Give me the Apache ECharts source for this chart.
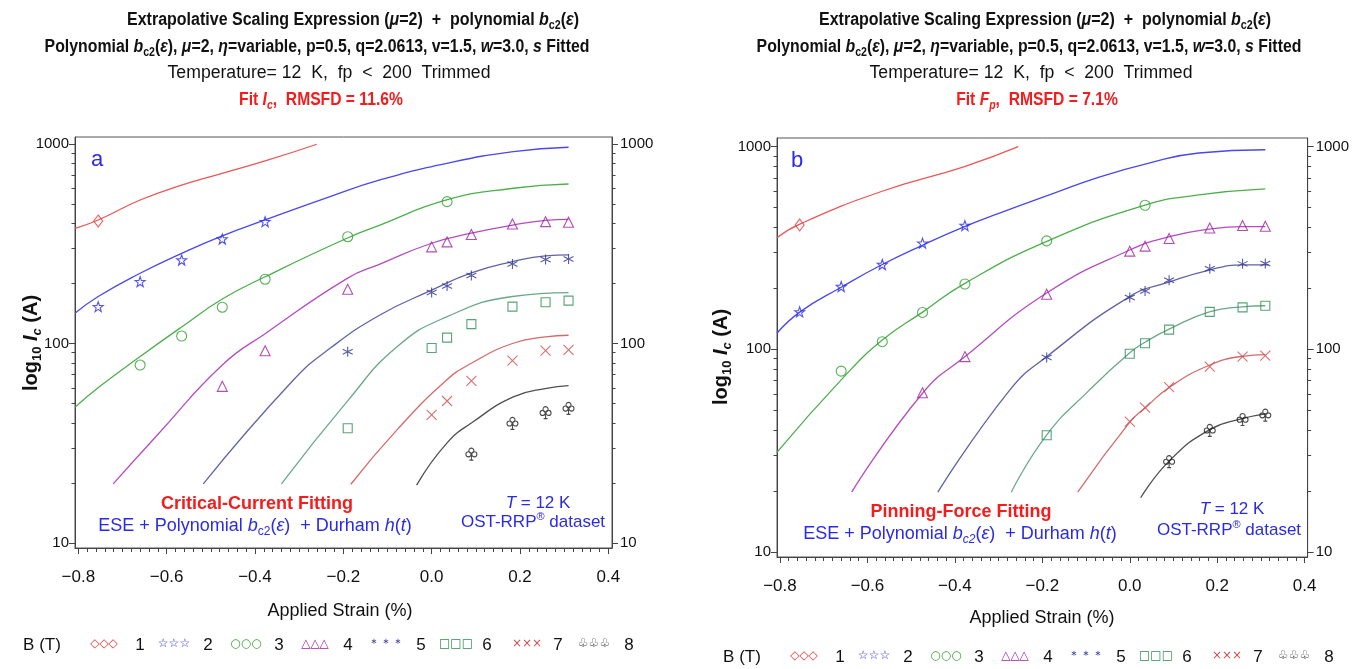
<!DOCTYPE html>
<html><head><meta charset="utf-8">
<script src="https://cdn.jsdelivr.net/npm/echarts@6/dist/echarts.min.js"></script>
<style>html,body{margin:0;padding:0;background:#fff}#c{width:1352px;height:669px}</style>
</head><body><div id="c"></div>
<script>
// ---------------- data ----------------
const fieldLabels = ['1','2','3','4','5','6','7','8'];           // B (T)
const strainTickLabels = [-0.8,-0.6,-0.4,-0.2,0.0,0.2,0.4];
const icTickLabels = [10,100,1000];
const icMinorTicks = [20,30,40,50,60,70,80,90,200,300,400,500,600,700,800,900];

// measured Ic points  [applied strain %, Ic A]
const meas_B1 = [[-0.755,411]];
const meas_B2 = [[-0.755,153],[-0.66,204],[-0.566,262],[-0.474,334],[-0.377,408]];
const meas_B3 = [[-0.66,78],[-0.566,109],[-0.474,152],[-0.377,210],[-0.19,343],[0.035,514]];
const meas_B4 = [[-0.474,61],[-0.377,92],[-0.19,187],[0.0,305],[0.035,323],[0.09,352],[0.183,397],[0.258,408],[0.31,405]];
const meas_B5 = [[-0.19,91],[0.0,180],[0.035,194],[0.09,219],[0.183,250],[0.258,264],[0.31,265]];
const meas_B6 = [[-0.19,37.6],[0.0,95],[0.035,107],[0.09,125],[0.183,153],[0.258,161],[0.31,164]];
const meas_B7 = [[0.0,43.9],[0.035,51.5],[0.09,65],[0.183,82],[0.258,92],[0.31,93]];
const meas_B8 = [[0.09,27.9],[0.183,39.8],[0.258,45],[0.31,47.3]];

// panel a: critical-current fit curves
const fitIc_B1 = [[-0.807,378],[-0.755,416],[-0.66,524],[-0.566,622],[-0.474,713],[-0.377,822],[-0.26,997]];
const fitIc_B2 = [[-0.807,142],[-0.755,172],[-0.66,225],[-0.566,283],[-0.474,346],[-0.377,416],[-0.23,545],[-0.117,660],[0.034,800],[0.185,915],[0.31,963]];
const fitIc_B3 = [[-0.807,48],[-0.751,61],[-0.66,86],[-0.566,121],[-0.474,167],[-0.377,216],[-0.192,337],[-0.117,392],[0.034,524],[0.185,600],[0.31,630]];
const fitIc_B4 = [[-0.721,19.8],[-0.62,35],[-0.474,78],[-0.377,112],[-0.191,212],[-0.117,250],[0.0,318],[0.09,357],[0.183,392],[0.258,414],[0.31,419]];
const fitIc_B5 = [[-0.517,19.8],[-0.313,65.6],[-0.23,94.6],[-0.117,139],[0.0,185],[0.09,226],[0.183,257],[0.258,275],[0.31,278]];
const fitIc_B6 = [[-0.34,19.8],[-0.192,51],[-0.079,96],[0.034,136],[0.183,172],[0.31,180]];
const fitIc_B7 = [[-0.183,19.7],[-0.079,36.8],[0.034,65.6],[0.09,79.6],[0.183,100],[0.258,108],[0.31,110]];
const fitIc_B8 = [[-0.034,19.5],[0.034,31.6],[0.094,40.5],[0.185,54],[0.26,59.6],[0.31,61.5]];

// panel b: pinning-force fit curves
const fitFp_B1 = [[-0.807,355],[-0.756,414],[-0.568,601],[-0.378,798],[-0.255,1000]];
const fitFp_B2 = [[-0.807,120],[-0.754,153],[-0.659,203],[-0.566,262],[-0.473,327],[-0.378,403],[-0.298,470],[-0.184,578],[-0.07,708],[0.044,830],[0.158,931],[0.31,966]];
const fitFp_B3 = [[-0.807,31],[-0.659,71],[-0.566,111],[-0.473,153],[-0.378,211],[-0.191,340],[0.037,516],[0.158,578],[0.31,619]];
const fitFp_B4 = [[-0.636,19.7],[-0.473,61],[-0.378,91.6],[-0.191,189],[0.0,309],[0.091,360],[0.182,392],[0.257,403],[0.31,403]];
const fitFp_B5 = [[-0.439,19.7],[-0.275,62.7],[-0.191,91.6],[0.0,182],[0.091,215],[0.182,246],[0.257,261],[0.318,261]];
const fitFp_B6 = [[-0.271,19.7],[-0.191,37.5],[-0.093,62.7],[0.0,96],[0.037,109],[0.091,126],[0.182,153],[0.257,162],[0.31,164]];
const fitFp_B7 = [[-0.119,19.7],[0.0,43.7],[0.037,51.8],[0.091,65],[0.182,83.4],[0.257,92.3],[0.31,94]];
const fitFp_B8 = [[0.025,18.5],[0.091,28.2],[0.182,40],[0.257,45.4],[0.31,48]];

const measAll = [meas_B1,meas_B2,meas_B3,meas_B4,meas_B5,meas_B6,meas_B7,meas_B8];
const fitIcAll = [fitIc_B1,fitIc_B2,fitIc_B3,fitIc_B4,fitIc_B5,fitIc_B6,fitIc_B7,fitIc_B8];
const fitFpAll = [fitFp_B1,fitFp_B2,fitFp_B3,fitFp_B4,fitFp_B5,fitFp_B6,fitFp_B7,fitFp_B8];

// ---------------- styles ----------------
const FF = '"Liberation Sans", Arial, sans-serif';
const lineColors = ['#ee5656','#4848ee','#4caf4c','#b44cc0','#6262a8','#6aa88c','#d46a6a','#505050'];
const markColors = ['#f03a3a','#2a2ae6','#2e9e2e','#a0209f','#2f2f8f','#2e8b57','#d04c4c','#1a1a1a'];
const symbols = [
  'diamond',
  'path://M5 0L6.18 3.38L9.76 3.45L6.9 5.62L7.94 9.05L5 7L2.06 9.05L3.1 5.62L0.24 3.45L3.82 3.38Z',
  'circle',
  'triangle',
  'path://M5 0L5 10M0.67 2.5L9.33 7.5M0.67 7.5L9.33 2.5',
  'rect',
  'path://M0 0L10 10M10 0L0 10',
  'path://M3.4 3.2A2.6 2.6 0 1 1 8.6 3.2A2.6 2.6 0 1 1 3.4 3.2ZM0.4 7A2.6 2.6 0 1 1 5.6 7A2.6 2.6 0 1 1 0.4 7ZM6.4 7A2.6 2.6 0 1 1 11.6 7A2.6 2.6 0 1 1 6.4 7ZM6 6.5L6 13M4 13L8 13'
];
const symSizes = [[9,12],10,10,[10,10],10,9,10,[11,12]];
const legendGlyphs = ['◇◇◇','☆☆☆','○○○','△△△','＊＊＊','□□□','×××','♧♧♧'];

// panel geometry
const panels = [
  {left:75, top:137, width:537, height:411, xmin:-0.8075, xmax:0.4084, ymin:9.44, ymax:1084, fits:fitIcAll},
  {left:777, top:138, width:532, height:419, xmin:-0.8068, xmax:0.4068, ymin:9.43, ymax:1104, fits:fitFpAll}
];

const strainMinor = [];
for (let k = -40; k <= 20; k++) { if (k % 10 !== 0) strainMinor.push(+(k*0.02).toFixed(2)); }

const fmtStrain = v => (v < 0 ? '\u2212' : '') + Math.abs(v).toFixed(1);

const grids = [], xAxes = [], yAxes = [], series = [];
panels.forEach((p, gi) => {
  grids.push({left:p.left, top:p.top, width:p.width, height:p.height, show:true, borderColor:'#555', borderWidth:1, backgroundColor:'transparent'});
  const xBase = xAxes.length;
  xAxes.push({type:'value', gridIndex:gi, min:p.xmin, max:p.xmax, position:'bottom',
    axisLine:{show:true, onZero:false, lineStyle:{color:'#444', width:1}},
    axisTick:{show:true, length:6, customValues:strainTickLabels, lineStyle:{color:'#444'}},
    axisLabel:{show:true, customValues:strainTickLabels, formatter:fmtStrain, margin:21, fontSize:17, fontFamily:FF, color:'#111'},
    splitLine:{show:false}});
  xAxes.push({type:'value', gridIndex:gi, min:p.xmin, max:p.xmax, position:'bottom',
    axisLine:{show:false, onZero:false}, axisTick:{show:true, length:4, customValues:strainMinor, lineStyle:{color:'#444'}},
    axisLabel:{show:false}, splitLine:{show:false}});
  const yBase = yAxes.length;
  ['left','right'].forEach(pos => {
    yAxes.push({type:'log', logBase:10, gridIndex:gi, min:p.ymin, max:p.ymax, position:pos,
      axisLine:{show:true, onZero:false, lineStyle:{color:'#444', width:1}},
      axisTick:{show:true, length:6, customValues:icTickLabels, lineStyle:{color:'#444'}},
      axisLabel:{show:true, customValues:icTickLabels, formatter:v => String(Math.round(v)), margin:pos==='left'?6:8, fontSize:15, fontFamily:FF, color:'#111'},
      splitLine:{show:false}, minorTick:{show:false}});
    yAxes.push({type:'log', logBase:10, gridIndex:gi, min:p.ymin, max:p.ymax, position:pos,
      axisLine:{show:false, onZero:false}, axisTick:{show:true, length:3.5, customValues:icMinorTicks, lineStyle:{color:'#444'}},
      axisLabel:{show:false}, splitLine:{show:false}});
  });
  p.fits.forEach((fit, i) => {
    series.push({type:'line', name:'fit ' + fieldLabels[i], xAxisIndex:xBase, yAxisIndex:yBase, data:fit,
      showSymbol:false, smooth:0.5, z:2, silent:true,
      lineStyle:{color:lineColors[i], width:1.3}});
  });
  measAll.forEach((pts, i) => {
    series.push({type:'scatter', name:fieldLabels[i], xAxisIndex:xBase, yAxisIndex:yBase, data:pts,
      symbol:symbols[i], symbolSize:symSizes[i], z:3, silent:true,
      itemStyle:{color:'rgba(0,0,0,0)', borderColor:markColors[i], borderWidth:1.1}});
  });
});

// ---------------- text helpers ----------------
function rich(size, weight, color) {
  const s = Math.round(size*0.64);
  return {
    i:{fontSize:size, fontWeight:weight, fontStyle:'italic', fontFamily:FF, fill:color, lineHeight:size+5},
    sub:{fontSize:s, fontWeight:weight, fontFamily:FF, fill:color, lineHeight:s+1, verticalAlign:'bottom'},
    isub:{fontSize:s, fontWeight:weight, fontStyle:'italic', fontFamily:FF, fill:color, lineHeight:s+1, verticalAlign:'bottom'},
    sup:{fontSize:s, fontWeight:weight, fontFamily:FF, fill:color, lineHeight:s+1, verticalAlign:'top'}
  };
}
function T(x, y, text, o) {
  const size = o.size, weight = o.weight || 'normal', color = o.color || '#111';
  return {type:'text', x:x, y:y, scaleX:o.sx || 1, rotation:o.rot || 0, z:100, silent:true,
    style:{text:text, fontSize:size, fontWeight:weight, fontFamily:o.family || FF, fill:color,
      align:'center', verticalAlign:'middle', lineHeight:size+5, rich:rich(size, weight, color)}};
}

const RED = '#f41c1c', BLUE = '#2a2ae8';
const gfx = [];
// titles
[['Fit {i|I}{isub|c},  RMSFD = 11.6%',353,317,329,321],['Fit {i|F}{isub|p},  RMSFD = 7.1%',1045,1029,1031,1037]].forEach(t => {
  gfx.push(T(t[1], 20, 'Extrapolative Scaling Expression ({i|\u03bc}=2)  +  polynomial {i|b}{sub|c2}({i|\u03b5})', {size:18, weight:'bold', sx:0.89}));
  gfx.push(T(t[2], 47, 'Polynomial {i|b}{sub|c2}({i|\u03b5}), {i|\u03bc}=2, {i|\u03b7}=variable, p=0.5, q=2.0613, v=1.5, {i|w}=3.0, {i|s} Fitted', {size:18, weight:'bold', sx:0.88}));
  gfx.push(T(t[3], 73, 'Temperature= 12  K,  fp  <  200  Trimmed', {size:18, sx:0.98}));
  gfx.push(T(t[4], 100, t[0], {size:18, weight:'bold', color:RED, sx:0.87}));
});
// panel letters
gfx.push(T(97, 160, 'a', {size:22, color:BLUE}));
gfx.push(T(797, 161, 'b', {size:22, color:BLUE}));
// y-axis names
gfx.push(T(31, 343, 'log{sub|10} {i|I}{isub|c} (A)', {size:20, weight:'bold', rot:Math.PI/2}));
gfx.push(T(721, 357, 'log{sub|10} {i|I}{isub|c} (A)', {size:20, weight:'bold', rot:Math.PI/2}));
// x-axis names
gfx.push(T(340, 611, 'Applied Strain (%)', {size:18}));
gfx.push(T(1042, 618, 'Applied Strain (%)', {size:18}));
// annotations
gfx.push(T(257, 504, 'Critical-Current Fitting', {size:18, weight:'bold', color:RED}));
gfx.push(T(255, 526, 'ESE + Polynomial {i|b}{sub|c2}({i|\u03b5})  + Durham {i|h}({i|t})', {size:18, color:BLUE}));
gfx.push(T(538, 503, '{i|T} = 12 K', {size:17, color:BLUE}));
gfx.push(T(533, 522, 'OST-RRP{sup|\u00ae} dataset', {size:17, color:BLUE}));
gfx.push(T(961, 512, 'Pinning-Force Fitting', {size:18, weight:'bold', color:RED}));
gfx.push(T(960, 534, 'ESE + Polynomial {i|b}{isub|c2}({i|\u03b5})  + Durham {i|h}({i|t})', {size:18, color:BLUE}));
gfx.push(T(1232, 509, '{i|T} = 12 K', {size:17, color:BLUE}));
gfx.push(T(1229, 530, 'OST-RRP{sup|\u00ae} dataset', {size:17, color:BLUE}));
// legends
const legSymX = [104,174,246,315,386,456,527,594];
const legNumX = [140,208,279,348,421,487,558,629];
[[0,645],[700,657]].forEach(L => {
  gfx.push(T(42 + L[0], L[1], 'B (T)', {size:17}));
  fieldLabels.forEach((lab, i) => {
    gfx.push(T(legSymX[i] + L[0], L[1] - 1, legendGlyphs[i], {size:12, family:'"DejaVu Sans", sans-serif', color:markColors[i]}));
    gfx.push(T(legNumX[i] + L[0], L[1], lab, {size:17}));
  });
});

const chart = echarts.init(document.getElementById('c'), null, {renderer:'canvas'});
chart.setOption({
  backgroundColor:'#ffffff',
  animation:false,
  grid:grids, xAxis:xAxes, yAxis:yAxes, series:series,
  graphic:{elements:gfx}
});
</script></body></html>
